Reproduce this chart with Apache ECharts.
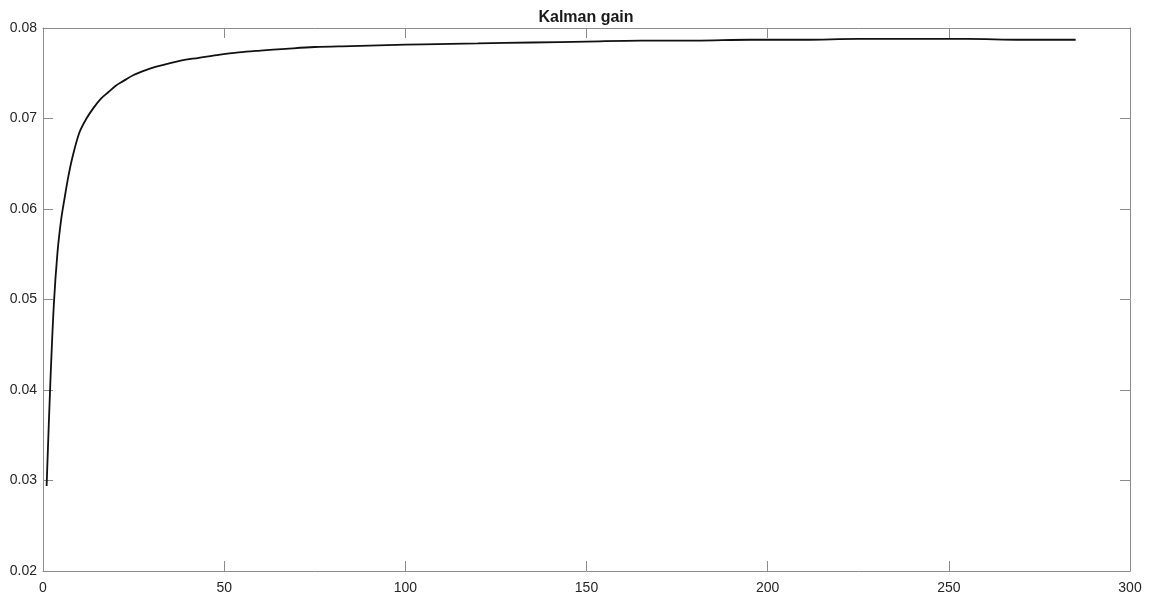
<!DOCTYPE html>
<html>
<head>
<meta charset="utf-8">
<title>Kalman gain</title>
<script src="https://cdn.jsdelivr.net/npm/echarts@6/dist/echarts.min.js"></script>
<style>
  html, body { margin: 0; padding: 0; background: #fff; }
  #chart { width: 1151px; height: 598px; }
</style>
</head>
<body>
<div id="chart"></div>
<script>
  // sample index (k) and gain
  var steps = [1, 2, 3, 4, 5, 6, 7, 8, 10, 12, 14, 16, 18, 20, 22, 25, 28, 31, 34, 38,
    43, 48, 54, 60, 67, 75, 85, 95, 105, 120, 135, 150, 165, 180, 195, 210, 225, 240,
    255, 270, 285];
  var gain = [0.0294, 0.0405, 0.0495, 0.0552, 0.0588, 0.0613, 0.0636, 0.0655, 0.0684, 0.0700,
    0.0712, 0.0722, 0.0729, 0.0736, 0.0741, 0.0748, 0.0753, 0.0757, 0.0760, 0.0764,
    0.0767, 0.0770, 0.0773, 0.0775, 0.0777, 0.0779, 0.0780, 0.0781, 0.0782, 0.0783,
    0.0784, 0.0785, 0.0786, 0.0786, 0.0787, 0.0787, 0.0788, 0.0788, 0.0788, 0.0787,
    0.0787];
  var xTicks = [0, 300, 50];       // min, max, step
  var yTicks = [0.02, 0.08, 0.01];

  var pts = [];
  for (var i = 0; i < steps.length; i++) {
    pts.push([steps[i], gain[i]]);
  }

  var axisGray = '#8c8c8c';
  var labelColor = '#262626';

  function xAxisCfg(pos, showLabel) {
    return {
      type: 'value', position: pos,
      min: xTicks[0], max: xTicks[1], interval: xTicks[2],
      axisLine: {show: true, onZero: false, lineStyle: {color: axisGray, width: 1}},
      axisTick: {show: true, inside: true, length: 10, lineStyle: {color: axisGray}},
      axisLabel: {show: showLabel, color: labelColor, fontSize: 14, fontFamily: 'Liberation Sans, Arial', margin: 10},
      splitLine: {show: false}
    };
  }
  function yAxisCfg(pos, showLabel) {
    return {
      type: 'value', position: pos,
      min: yTicks[0], max: yTicks[1], interval: yTicks[2],
      axisLine: {show: true, onZero: false, lineStyle: {color: axisGray, width: 1}},
      axisTick: {show: true, inside: true, length: 10, lineStyle: {color: axisGray}},
      axisLabel: {
        show: showLabel, color: labelColor, fontSize: 14, fontFamily: 'Liberation Sans, Arial', margin: 6,
        formatter: function (v) { return v.toFixed(2); }
      },
      splitLine: {show: false}
    };
  }

  var myChart = echarts.init(document.getElementById('chart'));
  myChart.setOption({
    animation: false,
    backgroundColor: '#fff',
    title: {
      text: 'Kalman gain',
      left: 581, top: 5, textAlign: 'center',
      textStyle: {fontSize: 16, fontWeight: 'bold', color: '#1a1a1a', fontFamily: 'Liberation Sans, Arial'}
    },
    grid: {left: 43, right: 21, top: 28, bottom: 27, containLabel: false, outerBoundsMode: 'none'},
    xAxis: [xAxisCfg('bottom', true), xAxisCfg('top', false)],
    yAxis: [yAxisCfg('left', true), yAxisCfg('right', false)],
    series: [{
      type: 'line',
      data: pts,
      showSymbol: false,
      smooth: 0.35,
      lineStyle: {color: '#111', width: 1.8}
    }]
  });
</script>
</body>
</html>
